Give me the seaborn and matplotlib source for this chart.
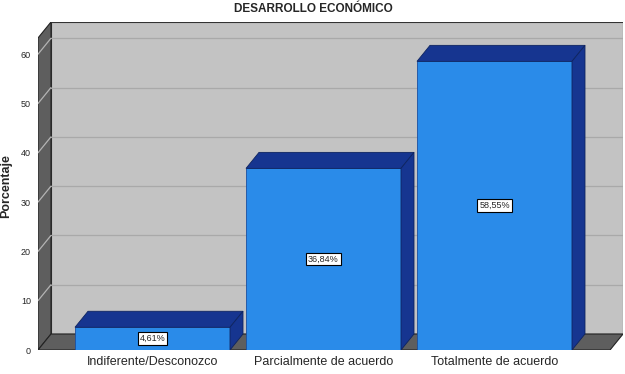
import numpy as np
import pandas as pd
import matplotlib
matplotlib.use("Agg")
import matplotlib.pyplot as plt
import seaborn as sns
from matplotlib.patches import Polygon

categories = ["Indiferente/Desconozco", "Parcialmente de acuerdo", "Totalmente de acuerdo"]
percentages = [4.61, 36.84, 58.55]
value_labels = ["4,61%", "36,84%", "58,55%"]
y_ticks = [0, 10, 20, 30, 40, 50, 60]

sns.set_style("white")
plt.rcParams["font.family"] = ["Liberation Sans", "DejaVu Sans"]

fig = plt.figure(figsize=(6.25, 3.74), dpi=100)
W, H = 625, 374
# axes box in pixels: left 38, right 623, top 22, bottom 350
ax = fig.add_axes([38 / W, 1 - 350 / H, (623 - 38) / W, (350 - 22) / H])

px_per_unit_y = 4.93
px_per_cat = 171.0
x0 = (38 - 152.5) / px_per_cat
x1 = (623 - 152.5) / px_per_cat
ytop = (350 - 22) / px_per_unit_y
dx = 13 / px_per_cat
dy = 16 / px_per_unit_y
bw = 155 / px_per_cat
xr = x1 - dx  # front right end of the floor

ax.set_xlim(x0, x1)
ax.set_ylim(0, ytop)

wall = "#c3c3c3"
dark = "#5e5e5e"
front_col = "#2a8be9"
shade_col = "#163590"

# back wall
ax.add_patch(Polygon([(x0 + dx, dy), (x1, dy), (x1, ytop), (x0 + dx, ytop)],
                     closed=True, fc=wall, ec="#333333", lw=0.8, zorder=0.5))
# left wall
ax.add_patch(Polygon([(x0, 0), (x0 + dx, dy), (x0 + dx, ytop), (x0, ytop - dy)],
                     closed=True, fc=dark, ec="#222222", lw=0.8, zorder=0.5))
# floor
ax.add_patch(Polygon([(x0, 0), (xr, 0), (x1, dy), (x0 + dx, dy)],
                     closed=True, fc=dark, ec="#222222", lw=0.8, zorder=0.5))
# grid lines
for v in y_ticks[1:]:
    ax.plot([x0 + dx, x1], [v + dy, v + dy], color="#a9a9a9", lw=0.9, zorder=0.6)
    ax.plot([x0, x0 + dx], [v, v + dy], color="#b4b4b4", lw=0.9, zorder=0.6)

df = pd.DataFrame({"cat": categories, "pct": percentages})
sns.barplot(data=df, x="cat", y="pct", color=front_col, saturation=1, width=bw,
            ax=ax, zorder=3, edgecolor="#1b4fa0", linewidth=0.6)

for i, (h, lab) in enumerate(zip(percentages, value_labels)):
    l, r = i - bw / 2, i + bw / 2
    ax.add_patch(Polygon([(l, h), (r, h), (r + dx, h + dy), (l + dx, h + dy)],
                         closed=True, fc=shade_col, ec="#0e2460", lw=0.6, zorder=3))
    ax.add_patch(Polygon([(r, 0), (r, h), (r + dx, h + dy), (r + dx, dy)],
                         closed=True, fc=shade_col, ec="#0e2460", lw=0.6, zorder=3))
    ax.text(i, h / 2, lab, ha="center", va="center", fontsize=6.5, zorder=5,
            bbox=dict(boxstyle="square,pad=0.2", fc="white", ec="black", lw=0.8))

ax.set_xlim(x0, x1)
ax.set_ylim(0, ytop)
ax.set_yticks(y_ticks)
ax.set_yticklabels([str(t) for t in y_ticks], fontsize=6.5)
ax.tick_params(axis="y", length=0, pad=5)
ax.tick_params(axis="x", length=0, pad=4, labelsize=9)
ax.set_xlabel("")
ax.set_ylabel("Porcentaje", fontsize=9, fontweight="bold", labelpad=6)
for s in ax.spines.values():
    s.set_visible(False)

fig.text(313 / W, 1 - 9 / H, "DESARROLLO ECONÓMICO", ha="center", va="center",
         fontsize=8.5, fontweight="bold")

fig.savefig("out.png", dpi=100)
